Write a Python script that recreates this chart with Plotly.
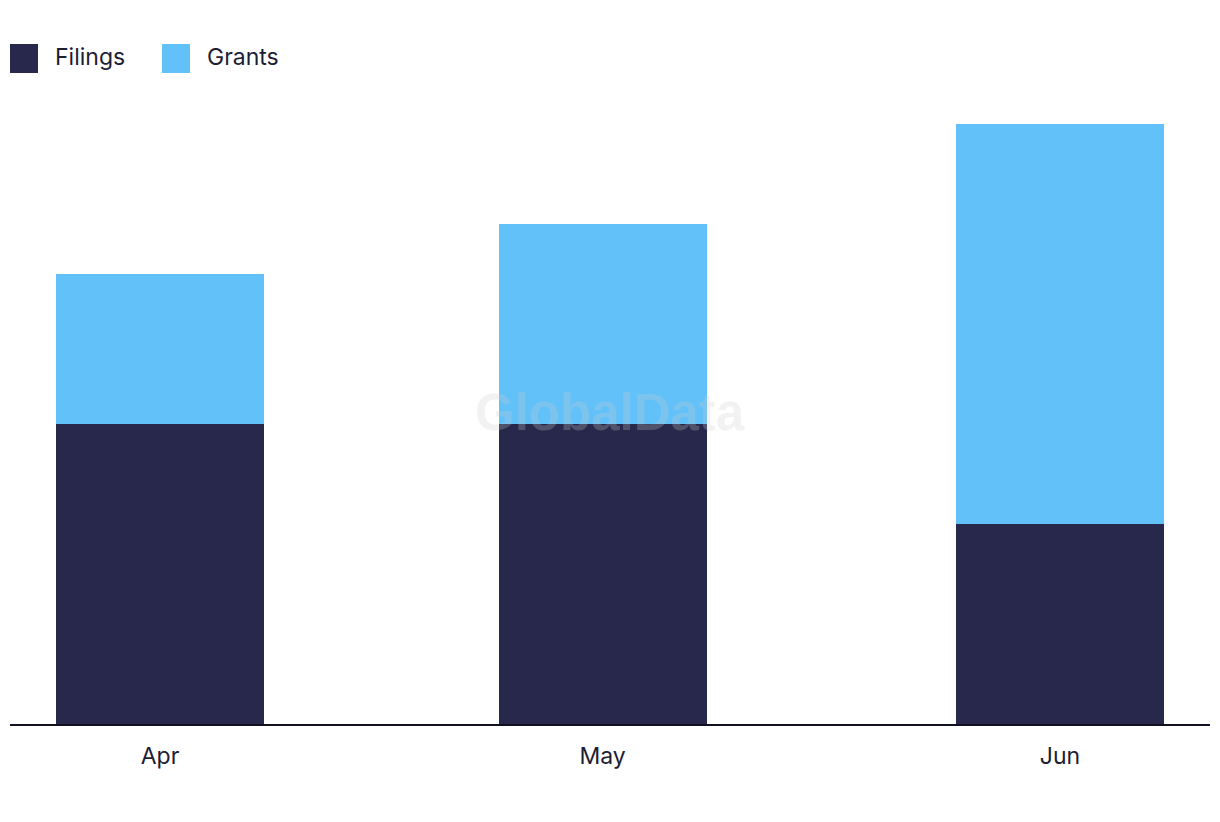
import plotly.graph_objects as go

months = ["2024-04-01", "2024-05-01", "2024-06-01"]
tick_labels = ["Apr", "May", "Jun"]
filings = [6, 6, 4]
grants = [3, 4, 8]

DARK = "#27284B"
LIGHT = "#62C1F9"
TEXT = "#1d1d33"
FONT = "Inter"

bar_width_ms = 14.1 * 86400000

fig = go.Figure()
fig.add_trace(go.Bar(x=months, y=filings, name="Filings", marker=dict(color=DARK, line=dict(width=0)),
                     width=bar_width_ms, showlegend=False))
fig.add_trace(go.Bar(x=months, y=grants, name="Grants", marker=dict(color=LIGHT, line=dict(width=0)),
                     width=bar_width_ms, showlegend=False))

# custom legend
legend_items = [("Filings", DARK, 0.0), ("Grants", LIGHT, 0.12667)]
for name, color, x0 in legend_items:
    fig.add_shape(type="rect", xref="paper", yref="paper", x0=x0, x1=x0 + 0.02333,
                  y0=1.085, y1=1.1333, fillcolor=color, line=dict(width=0))
    fig.add_annotation(xref="paper", yref="paper", x=x0 + 0.0355, y=1.1117, text=name,
                       showarrow=False, xanchor="left", yanchor="middle",
                       font=dict(family=FONT, size=23, color=TEXT))

# watermark
fig.add_annotation(xref="paper", yref="paper", x=0.5, y=0.52, text="<b>GlobalData</b>",
                   showarrow=False, xanchor="center", yanchor="middle",
                   font=dict(family="Liberation Sans", size=51, color="rgba(205,205,205,0.25)"))

fig.update_layout(
    barmode="stack",
    width=1220, height=822,
    margin=dict(l=10, r=10, t=124, b=98),
    paper_bgcolor="white", plot_bgcolor="white",
    font=dict(family=FONT, size=23, color=TEXT),
    xaxis=dict(type="date", range=["2024-03-21 20:00", "2024-06-11 04:00"],
               tickvals=months, ticktext=tick_labels, showgrid=False, zeroline=False,
               showline=True, linecolor="#111122", linewidth=2, ticks="",
               ticklabelstandoff=10,
               tickfont=dict(family=FONT, size=23, color=TEXT)),
    yaxis=dict(range=[0, 12], showgrid=False, zeroline=False, showticklabels=False,
               showline=False, ticks=""),
)

fig.write_html("out.html")
